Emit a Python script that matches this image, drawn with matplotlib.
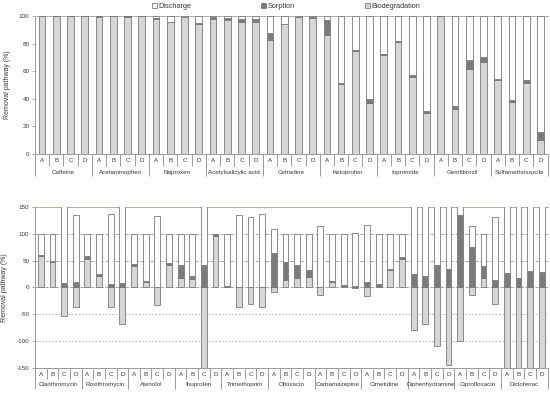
import numpy as np
import matplotlib.pyplot as plt
from matplotlib.patches import Patch

plt.rcParams['font.family'] = ['Liberation Sans', 'DejaVu Sans']
plt.rcParams['axes.unicode_minus'] = False

letters = ['A', 'B', 'C', 'D']

top_compounds = ['Caffeine', 'Acetaminophen', 'Naproxen', 'Acetylsalicylic acid',
                 'Cefradine', 'Ketoprofen', 'Iopromide', 'Gemfibrozil', 'Sulfamethoxazole']
top_bio = [100, 100, 100, 100, 99.5, 100, 99.5, 100, 98, 95.4, 99, 94.4,
           97.8, 97.5, 96, 96, 83, 94, 99, 98.5, 86, 50.5, 74.5, 37.2,
           72, 81, 56, 29.5, 100, 33, 61.6, 66.9, 53.5, 38, 51.7, 10.1]
top_sorp = [0, 0, 0, 0, 0.5, 0, 0.5, 0, 0.5, 0.5, 0.5, 0.5,
            1.5, 1, 2, 2, 5, 0.6, 0.5, 1, 11.4, 0.8, 0.8, 2.4,
            0.8, 0.8, 1, 1.7, 0, 2.2, 6.5, 3.1, 1, 1.5, 2, 5.8]
top_disc = [0, 0, 0, 0, 0, 0, 0, 0, 1.5, 4.1, 0.5, 5.1,
            0.7, 1.5, 2, 2, 12, 5.4, 0.5, 0.5, 2.6, 48.7, 24.7, 60.4,
            27.2, 18.2, 43, 68.8, 0, 64.8, 31.9, 30, 45.5, 60.5, 46.3, 84.1]

bot_compounds = ['Clarithromycin', 'Roxithromycin', 'Atenolol', 'Ibuprofen', 'Trimethoprim',
                 'Ofloxacin', 'Carbamazepine', 'Cimetidine', 'Diphenhydramine',
                 'Ciprofloxacin', 'Diclofenac']
bot_bio = [58, 46.9, -53, -35.8, 52.5, 21.6, -37, -67.3, 40, 9.3, -33.3, 42.6,
           16.7, 14.8, -250, 96.3, 0, -35.8, -30.9, -37, -8, 13.6, 17.3, 19.8,
           -14.8, 9.9, 1.9, -1, -16.7, 2.5, 32.1, 53.7, -79.6, -67.9, -109.3, -143.8,
           -98.8, -13.6, 18.5, -30.9, -220, -200, -240, -210]
bot_sorp = [2, 2, 7.4, 11, 6.8, 3.7, 6.2, 7.4, 3, 1.8, 0, 3,
            25.9, 5.6, 42.6, 3.7, 2, 0, 0, 0, 64.2, 34, 24, 13.6,
            1.2, 1.8, 1.8, 2, 9.9, 3.7, 2.5, 2.5, 25.3, 22.2, 42.6, 35.2,
            134, 74.7, 22.2, 13.6, 27.2, 17.3, 30.9, 28.4]
bot_disc = [40, 51.1, 145.6, 124.8, 40.7, 74.7, 130.8, 159.9, 57, 88.9, 133.3, 54.4,
            57.4, 79.6, 307.4, 0, 98, 135.8, 130.9, 137, 43.8, 52.4, 58.7, 66.6,
            113.6, 88.3, 96.3, 99, 106.8, 93.8, 65.4, 43.8, 154.3, 145.7, 166.7, 208.6,
            64.8, 38.9, 59.3, 117.3, 292.8, 282.7, 309.1, 281.6]

C_BIO = '#d6d6d6'
C_SORP = '#7b7b7b'
C_DISC = 'white'
EDGE = '#7a7a7a'
TXT = '#3a3a3a'
LINE = '#8c8c8c'


def draw_panel(ax, compounds, bio, sorp, disc, width, ylim, yticks,
               sep_len, grp_len, let_off, name_off):
    bio = np.array(bio, dtype=float)
    sorp = np.array(sorp, dtype=float)
    disc = np.array(disc, dtype=float)
    n = len(bio)
    x = np.arange(n)
    # negative biodegradation hangs below zero, the rest stacks up from zero
    s_bottom = np.where(bio > 0, bio, 0)
    d_bottom = s_bottom + sorp

    kw = dict(width=width, edgecolor=EDGE, linewidth=0.6, zorder=3)
    ax.bar(x, bio, color=C_BIO, **kw)
    ax.bar(x, sorp, bottom=s_bottom, color=C_SORP, **kw)
    ax.bar(x, disc, bottom=d_bottom, color=C_DISC, **kw)

    ax.set_xlim(-0.5, n - 0.5)
    ax.set_ylim(*ylim)
    ax.set_yticks(yticks)
    ax.tick_params(axis='y', labelsize=4.5, colors=TXT, length=2, width=0.5,
                   color=LINE, pad=2)

    # two-level category axis
    ax.set_xticks(np.arange(0, n + 1, 4) - 0.5)
    ax.set_xticks(np.arange(n + 1) - 0.5, minor=True)
    ax.tick_params(axis='x', which='major', length=grp_len, width=0.6,
                   color=LINE, labelbottom=False)
    ax.tick_params(axis='x', which='minor', length=sep_len, width=0.6,
                   color=LINE, labelbottom=False)
    for i in range(n):
        ax.annotate(letters[i % 4], xy=(i, 0), xycoords=('data', 'axes fraction'),
                    xytext=(0, -let_off), textcoords='offset points',
                    ha='center', va='center', fontsize=4.5, color=TXT)
    for g, name in enumerate(compounds):
        ax.annotate(name, xy=(g * 4 + 1.5, 0), xycoords=('data', 'axes fraction'),
                    xytext=(0, -name_off), textcoords='offset points',
                    ha='center', va='center', fontsize=4.5, color=TXT)

    ax.spines['right'].set_visible(False)
    ax.spines['left'].set_color(LINE)
    ax.spines['bottom'].set_color(LINE)
    ax.spines['top'].set_color('#a3a38f')
    for sp in ax.spines.values():
        sp.set_linewidth(0.6)
    ax.set_ylabel('Removal pathway (%)', fontsize=5, color=TXT, labelpad=6)


fig = plt.figure(figsize=(5.5, 3.93), dpi=100)
ax1 = fig.add_axes([0.0636, 0.608, 0.932, 0.351])
ax2 = fig.add_axes([0.0636, 0.0636, 0.932, 0.410])

draw_panel(ax1, top_compounds, top_bio, top_sorp, top_disc, 0.47, (0, 100),
           np.arange(0, 101, 20), sep_len=8.5, grp_len=16, let_off=4.5, name_off=13)
draw_panel(ax2, bot_compounds, bot_bio, bot_sorp, bot_disc, 0.5, (-150, 150),
           np.arange(-150, 151, 50), sep_len=8, grp_len=15, let_off=4.8, name_off=12)

for yv in [100, 50, 0]:
    ax2.axhline(yv, color='#999999', linewidth=0.6, linestyle=(0, (4, 2)), zorder=1)
for yv in [-50, -100]:
    ax2.axhline(yv, color='#aaaaaa', linewidth=0.6, linestyle=(0, (2, 2)), zorder=1)

handles = [Patch(facecolor=C_DISC, edgecolor=EDGE, linewidth=0.6, label='Discharge'),
           Patch(facecolor=C_SORP, edgecolor=EDGE, linewidth=0.6, label='Sorption'),
           Patch(facecolor=C_BIO, edgecolor=EDGE, linewidth=0.6, label='Biodegradation')]
fig.legend(handles=handles, loc='upper center', bbox_to_anchor=(0.52, 1.01), ncol=3,
           frameon=False, fontsize=5.3, handlelength=0.7, handleheight=0.7,
           handletextpad=0.2, columnspacing=9.5, labelcolor=TXT)

fig.savefig('out.png', dpi=100)
